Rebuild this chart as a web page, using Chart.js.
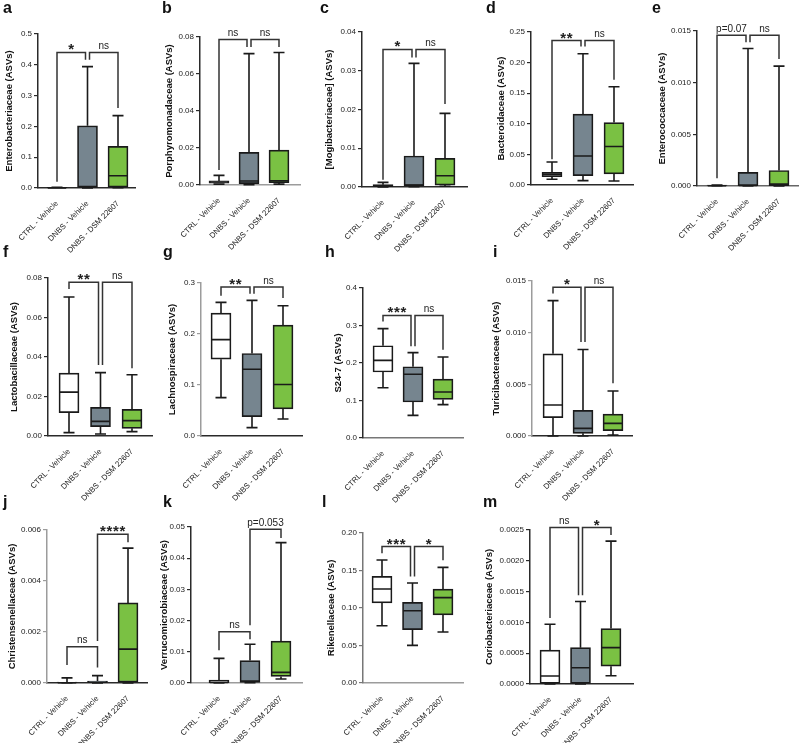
<!DOCTYPE html>
<html>
<head>
<meta charset="utf-8">
<script src="https://cdn.jsdelivr.net/npm/chart.js@4.4.1/dist/chart.umd.min.js"></script>
<style>
  html, body { margin: 0; padding: 0; background: #fff; overflow: hidden; }
  #figure { position: relative; width: 800px; height: 743px; }
  #figure canvas { position: absolute; }
  .letter { position: absolute; font: bold 16px "Liberation Sans", Arial, sans-serif; line-height: 16px; color: #111; }
</style>
</head>
<body>
<div id="figure"></div>
<script>
const groups = ['CTRL - Vehicle', 'DNBS - Vehicle', 'DNBS - DSM 22607'];
const panelLetters = ['a', 'b', 'c', 'd', 'e', 'f', 'g', 'h', 'i', 'j', 'k', 'l', 'm'];
const yTitles = [
    'Enterobacteriaceae (ASVs)', 'Porphyromonadaceae (ASVs)', '[Mogibacteriaceae] (ASVs)',
    'Bacteroidaceae (ASVs)', 'Enterococcaceae (ASVs)', 'Lactobacillaceae (ASVs)',
    'Lachnospiraceae (ASVs)', 'S24-7 (ASVs)', 'Turicibacteraceae (ASVs)',
    'Christensenellaceae (ASVs)', 'Verrucomicrobiaceae (ASVs)', 'Rikenellaceae (ASVs)',
    'Coriobacteriaceae (ASVs)'
];
const yMax = [0.5, 0.08, 0.04, 0.25, 0.015, 0.08, 0.3, 0.4, 0.015, 0.006, 0.05, 0.2, 0.0025];
const yStep = [0.1, 0.02, 0.01, 0.05, 0.005, 0.02, 0.1, 0.1, 0.005, 0.002, 0.01, 0.05, 0.0005];
const yDecimals = [1, 2, 2, 2, 3, 2, 1, 1, 3, 3, 2, 2, 4];

// box plot stats, one triple per panel: [CTRL, DNBS, DSM]
const whiskerLow = [
    [0, 0, 0.001], [0.0005, 0.0002, 0.0005], [0, 0.0001, 0.0002], [0.0093, 0.0071, 0.0066],
    [0, 0, 0], [0.0017, 0.001, 0.0022], [0.0753, 0.0164, 0.0334], [0.134, 0.0604, 0.0889],
    [0, 0, 0.0001], [0, 0, 0], [0, 0.0001, 0.0013], [0.0764, 0.0502, 0.068], [0, 0, 0.000135]
];
const q1 = [
    [0, 0.002, 0.003], [0.001, 0.0007, 0.0013], [0.0001, 0.0003, 0.0005], [0.0136, 0.0153, 0.018],
    [0, 0.00002, 0.00003], [0.0118, 0.0047, 0.0039], [0.1507, 0.038, 0.053], [0.176, 0.096, 0.103],
    [0.00178, 0.00026, 0.00052], [0, 0, 0.00003], [0.0001, 0.0002, 0.0021], [0.1067, 0.0711, 0.0907],
    [0, 0, 0.00029]
];
const median = [
    [0.0005, 0.005, 0.04], [0.0016, 0.0022, 0.0023], [0.0003, 0.0005, 0.0029], [0.0175, 0.0475, 0.0628],
    [0.00003, 0.00006, 0.00018], [0.0222, 0.0074, 0.0078], [0.189, 0.131, 0.1009], [0.207, 0.17, 0.1227],
    [0.003, 0.00074, 0.00122], [0.00001, 0.00003, 0.00133], [0.0002, 0.0006, 0.0034], [0.1253, 0.0964, 0.1138],
    [0.00013, 0.000265, 0.00059]
];
const q3 = [
    [0.001, 0.202, 0.135], [0.0022, 0.0176, 0.0189], [0.0006, 0.008, 0.0074], [0.0207, 0.116, 0.102],
    [0.00008, 0.00132, 0.0015], [0.0318, 0.0145, 0.0135], [0.241, 0.1618, 0.2175], [0.246, 0.19, 0.157],
    [0.00795, 0.00248, 0.00212], [0.00004, 0.00008, 0.00314], [0.0009, 0.0072, 0.0134], [0.1422, 0.1076, 0.1253],
    [0.00055, 0.00059, 0.0009]
];
const whiskerHigh = [
    [0.002, 0.394, 0.235], [0.0052, 0.071, 0.0716], [0.0012, 0.0319, 0.019], [0.0377, 0.2145, 0.1605],
    [0.0001, 0.0133, 0.0116], [0.0704, 0.0321, 0.031], [0.262, 0.266, 0.2555], [0.2916, 0.2276, 0.216],
    [0.0131, 0.00837, 0.00435], [0.0002, 0.00029, 0.00529], [0.0079, 0.0124, 0.045], [0.164, 0.1333, 0.1542],
    [0.00097, 0.00134, 0.00232]
];

// significance brackets: [from, to, top, leg end at from, leg end at to, label]
const brackets = [
    [[0, 1, 0.44, 0.02, 0.416, '*'], [1, 2, 0.44, 0.416, 0.26, 'ns']],
    [[0, 1, 0.0787, 0.0081, 0.0746, 'ns'], [1, 2, 0.0787, 0.0746, 0.0746, 'ns']],
    [[0, 1, 0.0355, 0.0019, 0.0334, '*'], [1, 2, 0.0355, 0.0334, 0.0214, 'ns']],
    [[0, 1, 0.236, 0.042, 0.2265, '**'], [1, 2, 0.236, 0.2265, 0.172, 'ns']],
    [[0, 1, 0.0146, 0.00074, 0.0139, 'p=0.07'], [1, 2, 0.0146, 0.0139, 0.0123, 'ns']],
    [[0, 1, 0.0778, 0.0744, 0.036, '**'], [1, 2, 0.0778, 0.036, 0.0343, 'ns']],
    [[0, 1, 0.292, 0.275, 0.279, '**'], [1, 2, 0.292, 0.279, 0.2705, 'ns']],
    [[0, 1, 0.327, 0.311, 0.245, '***'], [1, 2, 0.327, 0.245, 0.2356, 'ns']],
    [[0, 1, 0.0144, 0.0138, 0.0091, '*'], [1, 2, 0.0144, 0.0091, 0.0051, 'ns']],
    [[0, 1, 0.00142, 0.00071, 0.00061, 'ns'], [1, 2, 0.00583, 0.00165, 0.00552, '****']],
    [[0, 1, 0.0164, 0.0105, 0.014, 'ns'], [1, 2, 0.0493, 0.0185, 0.0465, 'p=0.053']],
    [[0, 1, 0.182, 0.173, 0.142, '***'], [1, 2, 0.182, 0.142, 0.1636, '*']],
    [[0, 1, 0.00254, 0.00107, 0.00144, 'ns'], [1, 2, 0.00254, 0.00144, 0.00242, '*']]
];

// layout (pixels on the page)
const axisX = [38, 200, 362, 531, 697, 48, 201, 363, 532, 47, 191, 363, 530];
const axisEnd = [135, 300, 467, 633, 798, 152, 302, 463, 632, 147, 302, 463, 633];
const firstCenter = [57, 219, 383, 552, 717, 69, 221, 383, 553, 67, 219, 382, 550];
const slot = [30.5, 30, 31, 31, 31, 31.5, 31, 30, 30, 30.5, 31, 30.5, 30.5];
const topY = [34, 37, 32, 32, 31, 278, 283, 288, 281, 530, 527, 533, 530];
const bottomY = [188, 185, 187, 185, 186, 436, 436, 438, 436, 683, 683, 683, 684];
const titleX = [10, 170, 330, 502, 663, 15, 173, 339, 497, 13, 165, 332, 490];
const letterX = [3, 162, 320, 486, 652, 3, 163, 325, 493, 3, 163, 322, 483];
const letterBaseline = [13, 13, 13, 13, 13, 257, 257, 257, 257, 507, 507, 507, 507];

const boxColors = ['#ffffff', '#76858f', '#7ac143'];
const dark = '#2a2a2a';
const light = '#9c9c9c';
const yAxisColors = [dark, dark, dark, dark, dark, dark, light, dark, light, light, dark, '#777', dark];
const xAxisColors = [dark, light, dark, dark, '#666', dark, dark, '#777', dark, dark, light, light, dark];
const FONT = '"Liberation Sans", Arial, sans-serif';

const figure = document.getElementById('figure');

function buildPanel(p) {
    const padTop = 30;
    const xLabelH = 75;
    const canvasLeft = Math.round(titleX[p] - 5.7);
    const yW = axisX[p] - canvasLeft;
    const width = axisEnd[p] - canvasLeft + 2;
    const height = (bottomY[p] - topY[p]) + padTop + xLabelH;

    const canvas = document.createElement('canvas');
    canvas.width = width;
    canvas.height = height;
    canvas.style.left = canvasLeft + 'px';
    canvas.style.top = (topY[p] - padTop) + 'px';
    canvas.style.width = width + 'px';
    canvas.style.height = height + 'px';
    figure.appendChild(canvas);

    const letter = document.createElement('div');
    letter.className = 'letter';
    letter.textContent = panelLetters[p];
    letter.style.left = letterX[p] + 'px';
    letter.style.top = (letterBaseline[p] - 13.5) + 'px';
    figure.appendChild(letter);

    const xMin = -(firstCenter[p] - axisX[p]) / slot[p];
    const xMax = (axisEnd[p] - firstCenter[p]) / slot[p];

    // whiskers, medians and brackets
    const boxExtras = {
        id: 'boxExtras',
        afterDatasetsDraw(chart) {
            const { ctx, scales: { x, y } } = chart;
            ctx.save();
            ctx.strokeStyle = '#1a1a1a';
            ctx.lineWidth = 1.6;
            groups.forEach(function(g, i) {
                const cx = x.getPixelForValue(i);
                const cap = 5.5;
                const half = 9.2;
                const yLo = y.getPixelForValue(whiskerLow[p][i]);
                const yQ1 = y.getPixelForValue(q1[p][i]);
                const yMed = y.getPixelForValue(median[p][i]);
                const yQ3 = y.getPixelForValue(q3[p][i]);
                const yHi = y.getPixelForValue(whiskerHigh[p][i]);
                ctx.beginPath();
                ctx.moveTo(cx, yQ3); ctx.lineTo(cx, yHi);
                ctx.moveTo(cx - cap, yHi); ctx.lineTo(cx + cap, yHi);
                ctx.moveTo(cx, yQ1); ctx.lineTo(cx, yLo);
                ctx.moveTo(cx - cap, yLo); ctx.lineTo(cx + cap, yLo);
                ctx.moveTo(cx - half, yMed); ctx.lineTo(cx + half, yMed);
                ctx.stroke();
            });
            ctx.restore();
        },
        afterDraw(chart) {
            const { ctx, scales: { x, y } } = chart;
            const list = brackets[p];
            ctx.save();
            ctx.strokeStyle = '#333';
            ctx.fillStyle = '#222';
            ctx.lineWidth = 1.5;
            list.forEach(function(b) {
                const [from, to, top, endA, endB, label] = b;
                let xa = x.getPixelForValue(from);
                let xb = x.getPixelForValue(to);
                list.forEach(function(o) {
                    if (o === b || o[2] !== top) return;
                    if (o[0] === to) xb -= 2;
                    if (o[1] === from) xa += 2;
                });
                const yt = y.getPixelForValue(top);
                ctx.beginPath();
                ctx.moveTo(xa, y.getPixelForValue(endA));
                ctx.lineTo(xa, yt);
                ctx.lineTo(xb, yt);
                ctx.lineTo(xb, y.getPixelForValue(endB));
                ctx.stroke();

                const mid = (xa + xb) / 2;
                ctx.textAlign = 'center';
                ctx.textBaseline = 'alphabetic';
                if (/^\*+$/.test(label)) {
                    ctx.font = 'bold 15px ' + FONT;
                    const n = label.length;
                    for (let k = 0; k < n; k++) {
                        ctx.fillText('*', mid + (k - (n - 1) / 2) * 6.5, yt + 2);
                    }
                } else {
                    ctx.font = '10px ' + FONT;
                    ctx.fillText(label, mid, yt - 3.5);
                }
            });
            ctx.restore();
        }
    };

    return new Chart(canvas.getContext('2d'), {
        type: 'bar',
        data: {
            datasets: [{
                data: groups.map(function(g, i) {
                    return { x: i, y: [q1[p][i], q3[p][i]] };
                }),
                backgroundColor: boxColors,
                borderColor: '#1a1a1a',
                borderWidth: 1.7,
                borderSkipped: false,
                barThickness: 20
            }]
        },
        options: {
            responsive: false,
            devicePixelRatio: 1,
            animation: false,
            events: [],
            layout: { padding: { top: padTop, right: 2, left: 0, bottom: 0 } },
            plugins: {
                legend: { display: false },
                tooltip: { enabled: false }
            },
            scales: {
                x: {
                    type: 'linear',
                    offset: false,
                    min: xMin,
                    max: xMax,
                    afterBuildTicks: function(scale) {
                        scale.ticks = groups.map(function(g, i) { return { value: i }; });
                    },
                    afterFit: function(scale) {
                        scale.height = xLabelH;
                        scale.paddingLeft = 0;
                        scale.paddingRight = 0;
                    },
                    grid: { display: false },
                    border: { display: true, color: xAxisColors[p], width: 1.5 },
                    ticks: {
                        autoSkip: false,
                        minRotation: 45,
                        maxRotation: 45,
                        padding: 3,
                        color: '#222',
                        font: { family: FONT, size: 7.8 },
                        callback: function(value) { return groups[value]; }
                    }
                },
                y: {
                    min: 0,
                    max: yMax[p],
                    afterBuildTicks: function(scale) {
                        const count = Math.round(yMax[p] / yStep[p]);
                        const ticks = [];
                        for (let k = 0; k <= count; k++) {
                            ticks.push({ value: +(k * yStep[p]).toFixed(8) });
                        }
                        scale.ticks = ticks;
                    },
                    afterFit: function(scale) {
                        scale.width = yW;
                        scale.paddingTop = 0;
                        scale.paddingBottom = 0;
                    },
                    grid: {
                        display: true,
                        drawOnChartArea: false,
                        drawTicks: true,
                        tickLength: 4,
                        color: yAxisColors[p],
                        lineWidth: 1.2
                    },
                    border: { display: true, color: yAxisColors[p], width: 1.5 },
                    ticks: {
                        padding: 2,
                        color: '#222',
                        font: { family: FONT, size: 8 },
                        callback: function(value) { return value.toFixed(yDecimals[p]); }
                    },
                    title: {
                        display: true,
                        text: yTitles[p],
                        color: '#111',
                        padding: 0,
                        font: { family: FONT, size: 9.5, weight: 'bold' }
                    }
                }
            }
        },
        plugins: [boxExtras]
    });
}

document.addEventListener('DOMContentLoaded', function() {
    for (let p = 0; p < panelLetters.length; p++) {
        buildPanel(p);
    }
});
</script>
</body>
</html>
